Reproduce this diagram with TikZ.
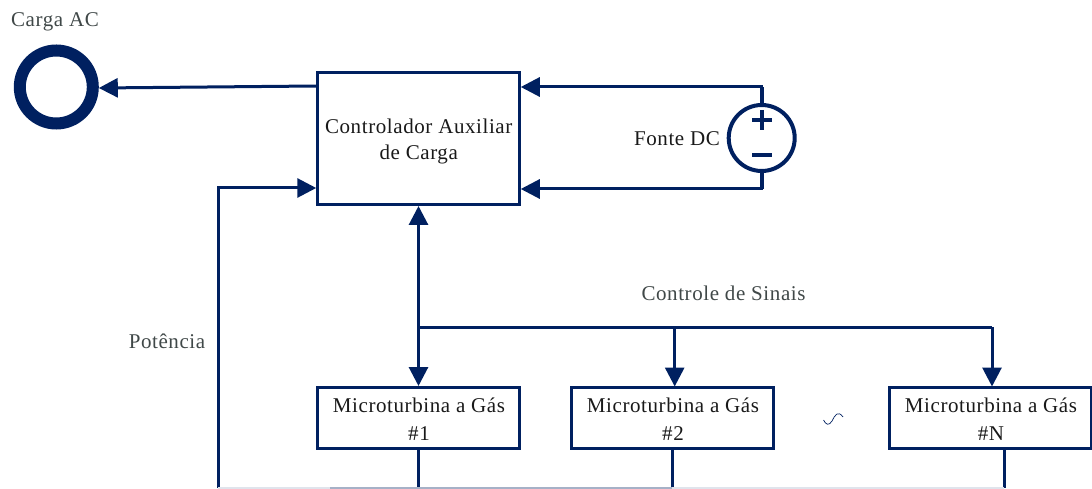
\documentclass[tikz,border=0pt]{standalone}
\usepackage{fontspec}
\setmainfont[LetterSpace=2.8]{Liberation Serif}
\usetikzlibrary{arrows.meta}
\definecolor{navy}{RGB}{0,32,96}
\definecolor{greytext}{RGB}{64,72,72}
\tikzset{
  x=1pt,y=1pt,
  blockbox/.style={draw=navy,line width=3pt,inner sep=0pt},
  mtbox/.style={blockbox,minimum width=202pt,minimum height=61pt},
  greylabel/.style={inner sep=0pt,text=greytext,font=\fontsize{21}{27.5}\selectfont},
  blacklabel/.style={inner sep=0pt,align=center,text=black!90,font=\fontsize{21}{27.5}\selectfont},
  wire/.style={draw=navy,line width=3pt},
  arrowwire/.style={wire,-{Triangle[length=19pt,width=19pt]}},
  bothwire/.style={wire,{Triangle[length=19pt,width=19pt]}-{Triangle[length=19pt,width=19pt]}},
}
\begin{document}
\begin{tikzpicture}
\useasboundingbox (0,0) rectangle (1092,488);
\clip (0,0) rectangle (1092,488);
% nodes
\node[blockbox,minimum width=201.5pt,minimum height=132pt] (main) at (418.5,349.5) {};
\node[blacklabel] (lmain) at (418.7,346.5) {Controlador Auxiliar\\[-1.5pt]de Carga};
\node[mtbox] (mt1) at (418.5,70) {};
\node[mtbox] (mt2) at (672.7,70) {};
\node[mtbox] (mtn) at (990.3,70) {};
\node[blacklabel] (lmt1) at (419,69) {Microturbina a Gás\\\#1};
\node[blacklabel] (lmt2) at (673,69) {Microturbina a Gás\\\#2};
\node[blacklabel] (lmtn) at (991,69) {Microturbina a Gás\\\#N};
\node[circle,draw=navy,line width=12pt,minimum size=73pt,inner sep=0pt] (load) at (56.3,401) {};
\node[circle,draw=navy,line width=4pt,minimum size=66pt,inner sep=0pt] (dc) at (761.7,350) {};
\node[greylabel] (lload) at (55,466.5) {Carga AC};
\node[blacklabel] (ldc) at (677,349) {Fonte DC};
\node[greylabel] (lpot) at (167,147) {Potência};
\node[greylabel] (lsig) at (723.5,195) {Controle de Sinais};
% connectors
\coordinate (c1) at (main.west|-0,402);
\coordinate (c2) at (load.east|-0,400);
\draw[arrowwire] (c1) -- (c2);
\coordinate (dctop) at (main.east|-0,401);
\coordinate (dcbot) at (main.east|-0,299);
\draw[arrowwire] (dc.north) |- (dctop);
\draw[arrowwire] (dc.south) |- (dcbot);
\draw[navy,line width=4pt] (dc.north) -- (dc.north|-dctop);
\draw[navy,line width=4pt] (dc.south) -- (dc.south|-dcbot);
\coordinate (pb) at (218,0);
\coordinate (pin) at (main.west|-0,300);
\draw[arrowwire] (pb) |- (pin);
\draw[bothwire] (main.south) -- (mt1.north);
\coordinate (bus) at (418.5,161);
\coordinate (bus2) at (674.7,161);
\coordinate (busn) at (992,161);
\coordinate (top2) at (674.7,101.5);
\coordinate (topn) at (992,101.5);
\draw[wire] (bus) -- (busn);
\draw[arrowwire] (bus2) -- (top2);
\draw[arrowwire] (busn) -- (topn);
\coordinate (bot1) at (418.5,0);
\coordinate (bot2) at (672,0);
\coordinate (botn) at (1004,0);
\coordinate (botout2) at (672,39);
\coordinate (botoutn) at (1004,39);
\draw[wire] (mt1.south) -- (bot1);
\draw[wire] (botout2) -- (bot2);
\draw[wire] (botoutn) -- (botn);
\coordinate (busmid) at (330,0);
\draw[draw=navy!12,line width=1.6pt] (pb) -- (busmid);
\draw[draw=navy!35,line width=1.6pt] (busmid) -- (bot2);
\draw[draw=navy!12,line width=1.6pt] (bot2) -- (botn);
% polarity marks
\draw[navy,line width=4pt] (761.7,378) -- ++(0,-20) (752,368) -- ++(19.5,0);
\draw[navy,line width=4pt] (752,333) -- ++(19.5,0);
% tilde
\draw[navy,line width=.7pt] (823.5,68) .. controls (826,63) and (829,62) .. (832,67) .. controls (835,73) and (838,78) .. (843,71);
\end{tikzpicture}
\end{document}
